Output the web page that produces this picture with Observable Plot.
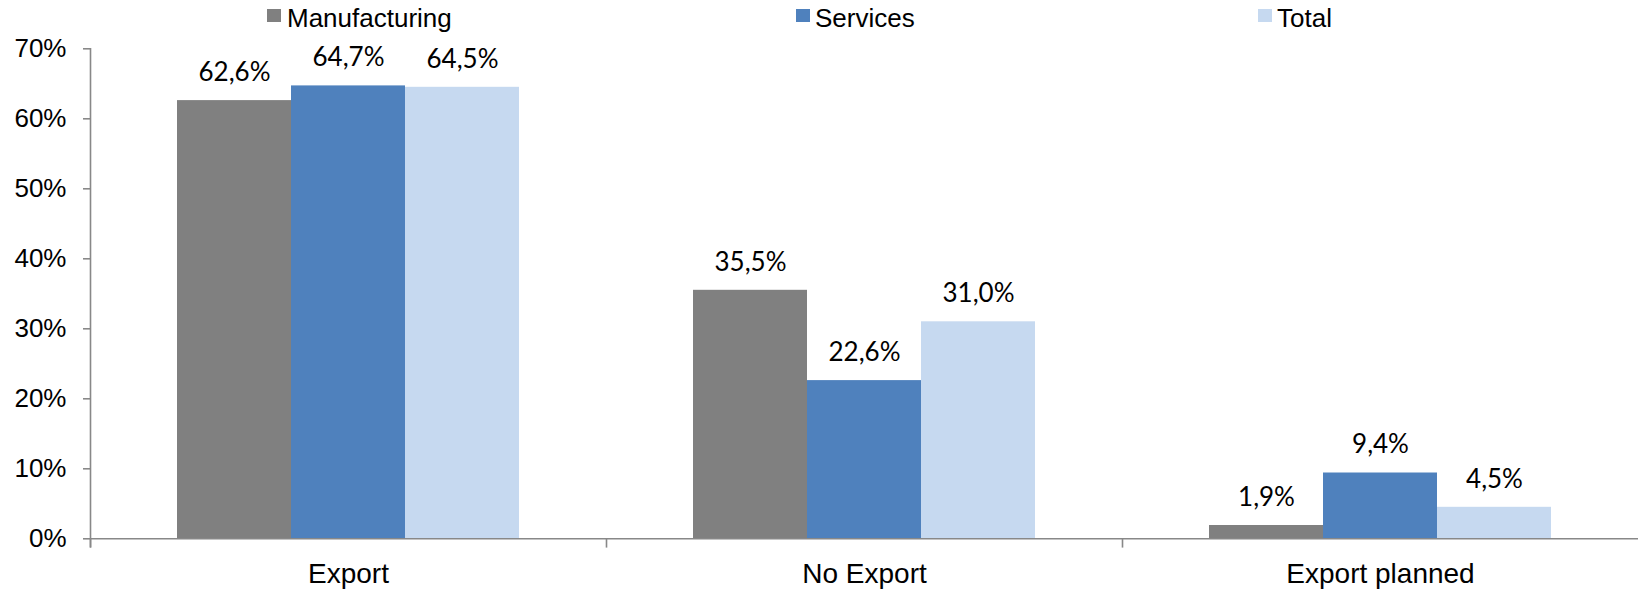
<!DOCTYPE html>
<html>
<head>
<meta charset="utf-8">
<script src="https://cdn.jsdelivr.net/npm/d3@7"></script>
<script src="https://cdn.jsdelivr.net/npm/@observablehq/plot@0.6"></script>
<style>
  html, body { margin: 0; padding: 0; background: #fff; }
  #wrap { width: 1639px; height: 589px; overflow: hidden; }
  #legend { position: relative; width: 1639px; height: 36px; font-family: "Liberation Sans", Arial, sans-serif; font-size: 26px; color: #000; }
  #legend .item { position: absolute; top: 3px; line-height: 30px; white-space: nowrap; }
  #legend .sw { position: absolute; top: 9px; width: 14px; height: 13px; }
  #legend .lbl { position: absolute; top: 0; }
</style>
</head>
<body>
<div id="wrap">
  <div id="legend"></div>
  <div id="chart"></div>
</div>
<script>
const categories = ["Export", "No Export", "Export planned"];
const series = ["Manufacturing", "Services", "Total"];
const manufacturing = [62.6, 35.5, 1.9];
const services = [64.7, 22.6, 9.4];
const total = [64.5, 31.0, 4.5];
const yTicks = [0, 10, 20, 30, 40, 50, 60, 70];
const colors = ["#808080", "#4F81BD", "#C6D9F0"];

const valuesBySeries = [manufacturing, services, total];
const data = [];
categories.forEach((c, ci) => {
  series.forEach((s, si) => {
    data.push({category: c, series: s, value: valuesBySeries[si][ci]});
  });
});

// Legend (HTML, above the SVG)
const legendPos = [[267, 287], [796, 815], [1258, 1277]];
const legend = document.getElementById("legend");
series.forEach((s, i) => {
  const sw = document.createElement("div");
  sw.className = "sw";
  sw.style.left = legendPos[i][0] + "px";
  sw.style.background = colors[i];
  legend.appendChild(sw);
  const lbl = document.createElement("div");
  lbl.className = "item";
  lbl.style.left = legendPos[i][1] + "px";
  lbl.textContent = s;
  legend.appendChild(lbl);
});

const axisGray = "#888888";

const chart = Plot.plot({
  width: 1639,
  height: 553,
  marginLeft: 89,
  marginRight: 0,
  marginTop: 12.3,
  marginBottom: 50.7,
  style: {fontFamily: "'Liberation Sans', Arial, sans-serif", fontSize: "26px", background: "#fff", color: "#000", overflow: "visible"},
  fx: {domain: categories, padding: 0},
  x: {domain: series, paddingInner: 0, paddingOuter: 0.748, axis: null},
  y: {domain: [0, 70]},
  color: {domain: series, range: colors},
  marks: [
    Plot.barY(data, {fx: "category", x: "series", y: "value", fill: "series", inset: 0}),
    Plot.ruleY([0], {stroke: axisGray, strokeWidth: 1.6}),
    Plot.frame({anchor: "left", stroke: axisGray, strokeWidth: 1.6, insetTop: 490, insetBottom: -8}),
    Plot.frame({anchor: "left", stroke: axisGray, strokeWidth: 1.6, insetBottom: -8, fx: () => categories[0]}),
    Plot.axisY({ticks: yTicks, tickFormat: d => d + "%", tickSize: 7, tickPadding: 17, stroke: axisGray, strokeWidth: 1.6, fontSize: 26, fill: "#000", label: null}),
    Plot.axisFx({anchor: "bottom", tickSize: 0, tickPadding: 24, fontSize: 28, fill: "#000", label: null}),
    Plot.text(data, {
      fx: "category", x: "series", y: "value",
      text: d => d.value.toFixed(1).replace(".", ",") + "%",
      dy: -28, lineAnchor: "middle", textAnchor: "middle",
      fontFamily: "Lato, 'Open Sans', sans-serif", fontSize: 26, fill: "#000"
    })
  ]
});
document.getElementById("chart").appendChild(chart);
</script>
</body>
</html>
